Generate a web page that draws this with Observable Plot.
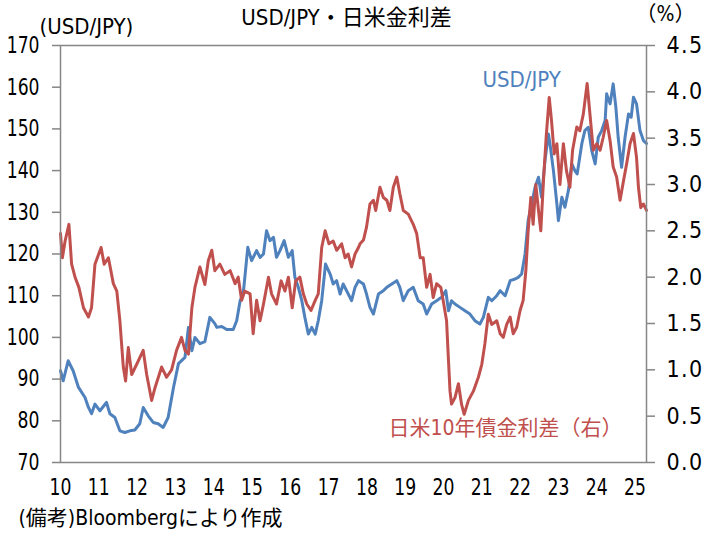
<!DOCTYPE html>
<html><head><meta charset="utf-8">
<script src="https://cdn.jsdelivr.net/npm/d3@7"></script>
<script src="https://cdn.jsdelivr.net/npm/@observablehq/plot@0.6"></script>
<style>
body{margin:0;background:#fff}
</style>
</head><body><div id="chart"></div>
<script>
// USD/JPY (left axis)
const usdYears = [2010.00,2010.07,2010.20,2010.33,2010.47,2010.64,2010.73,2010.81,2010.90,2011.03,2011.20,2011.29,2011.42,2011.55,2011.68,2011.81,2011.94,2012.07,2012.16,2012.29,2012.42,2012.55,2012.68,2012.81,2012.95,2013.08,2013.25,2013.34,2013.43,2013.51,2013.64,2013.77,2013.90,2014.03,2014.08,2014.21,2014.34,2014.51,2014.60,2014.69,2014.77,2014.89,2014.99,2015.12,2015.21,2015.30,2015.38,2015.47,2015.56,2015.64,2015.73,2015.84,2015.95,2016.05,2016.12,2016.21,2016.30,2016.38,2016.47,2016.56,2016.65,2016.73,2016.82,2016.92,2017.04,2017.12,2017.21,2017.30,2017.38,2017.47,2017.60,2017.69,2017.78,2017.91,2017.99,2018.08,2018.17,2018.30,2018.43,2018.52,2018.65,2018.78,2018.86,2018.95,2019.08,2019.21,2019.34,2019.47,2019.56,2019.69,2019.82,2019.95,2020.06,2020.13,2020.21,2020.30,2020.43,2020.56,2020.69,2020.82,2020.95,2021.04,2021.17,2021.26,2021.39,2021.48,2021.61,2021.74,2021.87,2021.95,2022.04,2022.13,2022.21,2022.30,2022.39,2022.48,2022.56,2022.65,2022.74,2022.78,2022.87,2022.96,2023.00,2023.09,2023.17,2023.26,2023.35,2023.43,2023.49,2023.61,2023.69,2023.78,2023.87,2023.96,2024.04,2024.13,2024.22,2024.26,2024.35,2024.43,2024.50,2024.56,2024.65,2024.74,2024.83,2024.90,2024.96,2025.04,2025.13,2025.22,2025.30];
const usdValues = [92.0,89.6,94.4,92.0,88.0,85.6,83.2,81.7,84.0,82.4,84.4,81.7,80.8,77.6,77.2,77.6,77.8,79.3,83.2,81.2,79.6,79.3,78.4,80.8,88.0,93.7,95.2,102.4,96.8,100.0,98.5,99.0,104.8,103.3,102.4,102.6,101.9,101.9,104.0,108.8,110.4,121.6,118.4,120.8,119.2,120.0,125.6,123.2,124.0,119.2,120.8,123.2,119.2,120.8,114.4,112.0,108.8,104.8,100.8,102.4,100.8,104.0,108.8,117.6,115.2,112.8,113.6,110.4,112.8,111.2,108.8,112.0,113.6,112.8,110.4,107.2,105.6,110.4,111.2,112.0,112.8,113.6,112.0,108.8,111.2,112.0,108.8,108.0,105.6,108.0,108.8,109.6,111.2,106.4,108.8,108.0,107.2,106.4,105.6,104.0,103.2,104.8,109.6,108.8,110.0,111.2,110.0,113.6,114.0,114.4,115.2,120.0,128.0,132.0,136.0,138.4,133.6,142.4,148.8,146.4,140.0,132.0,128.0,133.6,131.2,135.2,141.6,140.0,139.2,146.4,149.6,150.4,144.8,141.6,148.0,149.6,152.0,158.4,156.0,160.8,155.2,148.0,140.8,148.0,153.6,152.8,157.6,156.0,149.6,147.2,146.5];

// 日米10年債金利差 (right axis, %)
const spreadYears = [2010.00,2010.05,2010.12,2010.22,2010.29,2010.38,2010.48,2010.60,2010.73,2010.81,2010.90,2011.06,2011.14,2011.25,2011.38,2011.47,2011.55,2011.64,2011.70,2011.77,2011.86,2011.99,2012.16,2012.25,2012.38,2012.47,2012.64,2012.77,2012.90,2013.03,2013.16,2013.25,2013.34,2013.43,2013.51,2013.64,2013.77,2013.86,2013.95,2014.03,2014.16,2014.29,2014.43,2014.56,2014.64,2014.73,2014.81,2014.95,2015.03,2015.12,2015.21,2015.30,2015.43,2015.51,2015.64,2015.76,2015.86,2015.95,2016.05,2016.14,2016.25,2016.34,2016.43,2016.54,2016.65,2016.73,2016.82,2016.91,2017.01,2017.12,2017.21,2017.34,2017.43,2017.51,2017.60,2017.69,2017.78,2017.82,2017.91,2017.99,2018.08,2018.17,2018.23,2018.34,2018.43,2018.52,2018.60,2018.69,2018.78,2018.86,2018.95,2019.08,2019.21,2019.30,2019.39,2019.47,2019.56,2019.65,2019.73,2019.82,2019.93,2019.99,2020.08,2020.13,2020.17,2020.21,2020.30,2020.39,2020.47,2020.54,2020.65,2020.78,2020.91,2021.00,2021.08,2021.17,2021.26,2021.39,2021.48,2021.56,2021.65,2021.74,2021.82,2021.91,2022.00,2022.08,2022.15,2022.21,2022.28,2022.34,2022.41,2022.48,2022.54,2022.61,2022.68,2022.76,2022.82,2022.89,2022.96,2023.04,2023.13,2023.21,2023.30,2023.37,2023.48,2023.56,2023.65,2023.75,2023.83,2023.91,2024.00,2024.09,2024.17,2024.26,2024.35,2024.43,2024.52,2024.61,2024.70,2024.78,2024.87,2024.96,2025.04,2025.09,2025.15,2025.22,2025.30];
const spreadValues = [2.47,2.21,2.39,2.57,2.14,2.00,1.89,1.67,1.57,1.67,2.14,2.32,2.14,2.21,1.93,1.85,1.53,1.03,0.88,1.24,0.95,1.06,1.21,0.95,0.67,0.81,1.03,0.92,1.00,1.21,1.35,1.21,1.17,1.67,1.89,2.11,1.92,2.18,2.29,2.07,2.14,2.03,2.07,1.93,2.00,1.75,1.85,1.82,1.39,1.75,1.53,1.71,2.00,1.82,1.71,1.96,1.85,2.00,1.67,1.96,2.00,1.82,1.71,1.64,1.75,1.82,2.32,2.50,2.36,2.39,2.29,2.36,2.21,2.25,2.11,2.25,2.32,2.36,2.40,2.54,2.79,2.83,2.72,2.97,2.86,2.83,2.72,2.97,3.08,2.90,2.72,2.68,2.57,2.47,2.21,2.21,1.89,2.03,1.78,1.93,1.89,1.75,1.53,1.10,0.77,0.63,0.70,0.85,0.63,0.52,0.67,0.77,0.92,1.06,1.28,1.60,1.49,1.53,1.39,1.35,1.49,1.57,1.39,1.46,1.64,1.75,2.07,2.50,2.86,2.57,3.00,2.72,2.50,3.04,3.51,3.94,3.69,3.33,3.44,3.00,3.44,3.15,2.97,3.37,3.62,3.58,3.76,4.09,3.73,3.37,3.44,3.37,3.51,3.69,3.47,3.19,3.08,2.83,3.04,3.22,3.44,3.55,3.29,2.97,2.75,2.79,2.72];

const xTicks = [2010,2011,2012,2013,2014,2015,2016,2017,2018,2019,2020,2021,2022,2023,2024,2025];
const leftTicks = [70,80,90,100,110,120,130,140,150,160,170];
const rightTicks = [0.0,0.5,1.0,1.5,2.0,2.5,3.0,3.5,4.0,4.5];

const titleText = "USD/JPY・日米金利差";
const leftUnit = "(USD/JPY)";
const rightUnit = "（%）";
const usdLabel = "USD/JPY";
const spreadLabel = "日米10年債金利差（右）";
const captionText = "(備考)Bloombergにより作成";

const BLUE = "#4F81BD", RED = "#C0504D", GRAY = "#868686";
const FONT = "'Liberation Sans Narrow','DejaVu Sans Condensed','Noto Sans CJK JP',sans-serif";

const toLeft = s => 70 + s * 100 / 4.5;
const usd = usdYears.map((t, i) => ({t, v: usdValues[i]}));
const spr = spreadYears.map((t, i) => ({t, v: toLeft(spreadValues[i])}));

const txt = (s, o) => Plot.text([s], {text: d => d, fontSize: 22, fill: "#000", ...o});

const plot = Plot.plot({
  width: 709, height: 533,
  marginLeft: 60, marginRight: 63, marginTop: 45, marginBottom: 71,
  x: {domain: [2010, 2025.3], axis: null},
  y: {domain: [70, 170], axis: null},
  style: {fontFamily: FONT, background: "white", color: "#000"},
  marks: [
    Plot.line(usd, {x: "t", y: "v", stroke: BLUE, strokeWidth: 3}),
    Plot.line(spr, {x: "t", y: "v", stroke: RED, strokeWidth: 3}),
    Plot.frame({stroke: GRAY, strokeWidth: 1.5}),
    Plot.axisY(leftTicks, {anchor: "left", tickSize: 8, tickPadding: 13, fontSize: 23, stroke: GRAY, strokeWidth: 1.5, fill: "#000", label: null}),
    Plot.axisY(rightTicks.map(toLeft), {anchor: "right", tickSize: 8, tickPadding: 12, fontSize: 23, stroke: GRAY, strokeWidth: 1.5, fill: "#000", label: null,
      tickFormat: d => ((d - 70) * 4.5 / 100).toFixed(1)}),
    Plot.axisX(xTicks, {anchor: "bottom", tickSize: 0, tickPadding: 16, fontSize: 23, fill: "#000", label: null,
      tickFormat: d => String(d).slice(2)}),
    txt(titleText, {frameAnchor: "top", dx: -7, dy: -28, lineAnchor: "middle"}),
    txt(leftUnit, {frameAnchor: "top-left", textAnchor: "start", dx: -21, dy: -19, lineAnchor: "middle"}),
    txt(rightUnit, {frameAnchor: "top-right", textAnchor: "middle", dx: 19, dy: -31, lineAnchor: "middle", fontSize: 21}),
    txt(usdLabel, {frameAnchor: "top-left", textAnchor: "start", dx: 422, dy: 34, lineAnchor: "middle", fill: BLUE}),
    txt(spreadLabel, {frameAnchor: "top-left", textAnchor: "start", dx: 328, dy: 383, lineAnchor: "middle", fill: RED, fontSize: 21}),
    txt(captionText, {frameAnchor: "bottom-left", textAnchor: "start", dx: -42, dy: 56, lineAnchor: "middle", fontSize: 21})
  ]
});
document.getElementById("chart").appendChild(plot);
// condense the tick-label glyphs to resemble the narrow digits of the original
d3.select(plot).selectAll('g[aria-label="y-axis tick label"], g[aria-label="x-axis tick label"]').each(function() {
  const right = this.getAttribute("text-anchor") === "start";
  d3.select(this).selectAll("text").each(function() {
    const len = this.getComputedTextLength();
    if (len > 0) {
      this.setAttribute("textLength", (right ? len * 0.84 + 8 : len * 0.83).toFixed(1));
      this.setAttribute("lengthAdjust", right ? "spacing" : "spacingAndGlyphs");
    }
  });
});
</script>
</body></html>
